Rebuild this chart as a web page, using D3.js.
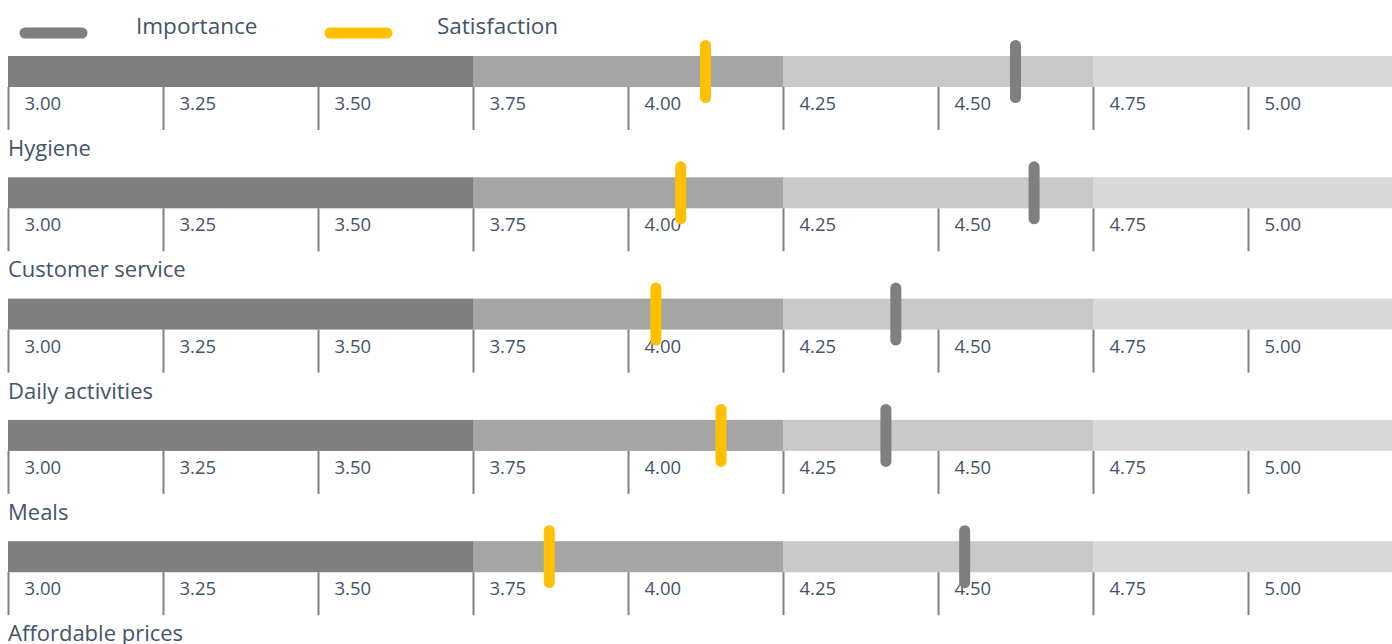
<!DOCTYPE html>
<html>
<head>
<meta charset="utf-8">
<script src="https://cdn.jsdelivr.net/npm/d3@7"></script>
<style>
  body { margin: 0; background: #fff; }
  text { font-family: "Open Sans", "Noto Sans", sans-serif; fill: #44546a; }
</style>
</head>
<body>
<div id="chart"></div>
<script>
// data
var categories = ["Hygiene", "Customer service", "Daily activities", "Meals", "Affordable prices"];
var importance = [4.625, 4.655, 4.432, 4.416, 4.543];
var satisfaction = [4.125, 4.085, 4.045, 4.15, 3.873];
var tickValues = [3.00, 3.25, 3.50, 3.75, 4.00, 4.25, 4.50, 4.75, 5.00];
var rangeBreaks = [3.00, 3.75, 4.25, 4.75, 5.25];
var rangeColors = ["#7f7f7f", "#a5a5a5", "#c9c9c9", "#d9d9d9"];

var w = 1392, h = 644;
var svg = d3.select("#chart").append("svg")
  .attr("width", w)
  .attr("height", h);

var x = d3.scaleLinear()
  .domain([3, 5.25])
  .range([8, 1403]);

var y = d3.scaleBand()
  .domain(categories)
  .range([56, 56 + 121.3 * 5]);

var bandH = 31;

// legend
var legend = [["Importance", "#7f7f7f", 20, 136], ["Satisfaction", "#ffc000", 325, 437]];
var lg = svg.selectAll(".legend").data(legend).enter().append("g");
lg.append("line")
  .attr("x1", d => d[2] + 5).attr("x2", d => d[2] + 62)
  .attr("y1", 33).attr("y2", 33)
  .attr("stroke", d => d[1])
  .attr("stroke-width", 11)
  .attr("stroke-linecap", "round");
lg.append("text")
  .attr("x", d => d[3]).attr("y", 34)
  .attr("font-size", 22.5)
  .text(d => d[0]);

var rows = svg.selectAll(".row")
  .data(categories)
  .enter().append("g")
  .attr("class", "row")
  .attr("transform", d => "translate(0," + y(d) + ")");

// qualitative ranges
rows.selectAll("rect")
  .data(rangeColors.map((c, i) => ({c: c, a: rangeBreaks[i], b: rangeBreaks[i + 1]})))
  .enter().append("rect")
  .attr("x", d => x(d.a))
  .attr("width", d => Math.min(x(d.b), w) - x(d.a))
  .attr("y", 0)
  .attr("height", bandH)
  .attr("fill", d => d.c);

// axis under each band
rows.each(function() {
  var g = d3.select(this).append("g")
    .attr("transform", "translate(0," + bandH + ")")
    .call(d3.axisBottom(x).tickValues(tickValues).tickSize(43).tickFormat(d3.format(".2f")));
  g.select(".domain").remove();
  g.selectAll(".tick line").attr("stroke", "#808080").attr("stroke-width", 2);
  g.selectAll(".tick text")
    .attr("text-anchor", "start")
    .attr("x", 16).attr("y", 10)
    .attr("dy", "0.71em")
    .attr("font-size", 18.5)
    .style("font-family", "'Open Sans', sans-serif")
    .attr("fill", "#44546a");
});

// category labels
rows.append("text")
  .attr("x", 8)
  .attr("y", 100)
  .attr("font-size", 22)
  .text(d => d);

// markers
function marker(vals, color) {
  rows.append("line")
    .attr("x1", (d, i) => x(vals[i]))
    .attr("x2", (d, i) => x(vals[i]))
    .attr("y1", bandH / 2 - 26)
    .attr("y2", bandH / 2 + 26)
    .attr("stroke", color)
    .attr("stroke-width", 11)
    .attr("stroke-linecap", "round");
}
marker(satisfaction, "#ffc000");
marker(importance, "#7f7f7f");
</script>
</body>
</html>
